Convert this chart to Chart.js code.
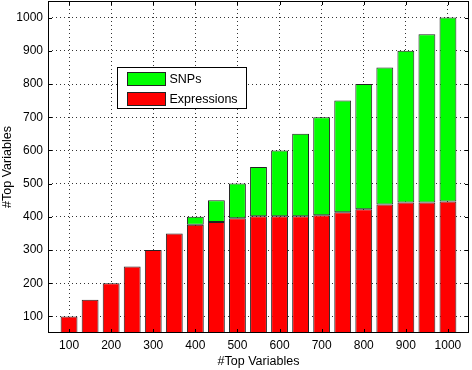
<!DOCTYPE html>
<html>
<head>
<meta charset="utf-8">
<script src="https://cdn.jsdelivr.net/npm/chart.js@4"></script>
<style>
  html, body { margin: 0; padding: 0; background: #fff; }
  #wrap { width: 472px; height: 370px; }
</style>
</head>
<body>
<div id="wrap"><canvas id="chart"></canvas></div>
<script>
const topVars = [100, 150, 200, 250, 300, 350, 400, 450, 500, 550, 600, 650, 700, 750, 800, 850, 900, 950, 1000];
const expressions = [100, 150, 200, 250, 300, 350, 376, 384, 396, 402, 402, 402, 405, 414, 423, 437, 443, 443, 446];
const snps = [0, 0, 0, 0, 0, 0, 24, 66, 104, 148, 198, 248, 295, 336, 377, 413, 457, 507, 554];
const xTicks = [100, 200, 300, 400, 500, 600, 700, 800, 900, 1000];
const yTicks = [100, 200, 300, 400, 500, 600, 700, 800, 900, 1000];

const font = { family: "'Liberation Sans', Arial, sans-serif", size: 12 };

// MATLAB-style frame, inward tick marks and the in-plot legend
const frameAndLegend = {
    id: 'frameAndLegend',
    afterDraw(chart) {
        const { ctx, chartArea: a, scales } = chart;
        ctx.save();
        ctx.strokeStyle = '#000';
        ctx.lineWidth = 1;
        ctx.strokeRect(a.left + 0.5, a.top + 0.5, a.right - a.left - 1, a.bottom - a.top - 1);
        ctx.beginPath();
        xTicks.forEach(v => {
            const x = Math.round(scales.x.getPixelForValue(v)) + 0.5;
            ctx.moveTo(x, a.bottom); ctx.lineTo(x, a.bottom - 4);
            ctx.moveTo(x, a.top); ctx.lineTo(x, a.top + 4);
        });
        yTicks.forEach(v => {
            const y = Math.round(scales.y.getPixelForValue(v)) + 0.5;
            ctx.moveTo(a.left, y); ctx.lineTo(a.left + 4, y);
            ctx.moveTo(a.right, y); ctx.lineTo(a.right - 4, y);
        });
        ctx.stroke();

        // legend
        ctx.fillStyle = '#fff';
        ctx.fillRect(117, 67, 129, 41);
        ctx.strokeRect(117.5, 67.5, 129, 41);
        const items = [
            { label: 'SNPs', color: '#00ff00', y: 72 },
            { label: 'Expressions', color: '#ff0000', y: 92 }
        ];
        ctx.font = '12.5px ' + font.family;
        ctx.textBaseline = 'middle';
        items.forEach(it => {
            ctx.fillStyle = it.color;
            ctx.fillRect(127, it.y, 39, 14);
            ctx.strokeStyle = '#222';
            ctx.strokeRect(127.5, it.y + 0.5, 38, 13);
            ctx.fillStyle = '#000';
            ctx.fillText(it.label, 169.5, it.y + 7.5);
        });
        ctx.restore();
    }
};

new Chart(document.getElementById('chart'), {
    type: 'bar',
    data: {
        datasets: [
            {
                label: 'Expressions',
                data: topVars.map((v, i) => ({ x: v, y: expressions[i] })),
                backgroundColor: '#ff0000',
                borderColor: '#222',
                borderWidth: 1,
                borderSkipped: false
            },
            {
                label: 'SNPs',
                data: topVars.map((v, i) => ({ x: v, y: snps[i] })),
                backgroundColor: '#00ff00',
                borderColor: '#222',
                borderWidth: 1,
                borderSkipped: false
            }
        ]
    },
    options: {
        responsive: true,
        maintainAspectRatio: false,
        animation: false,
        barPercentage: 0.8,
        categoryPercentage: 1,
        layout: { padding: { left: 0, top: 1, right: 3, bottom: 0 } },
        plugins: { legend: { display: false }, tooltip: { enabled: false } },
        scales: {
            x: {
                type: 'linear',
                stacked: true,
                offset: false,
                min: 50,
                max: 1050,
                afterBuildTicks: s => { s.ticks = xTicks.map(v => ({ value: v })); },
                afterFit: s => { s.height = 37; s.paddingLeft = 0; s.paddingRight = 0; },
                grid: { color: '#333', lineWidth: 1, drawTicks: false, offset: false },
                border: { display: false, dash: [1, 3] },
                ticks: { color: '#000', font, padding: 5, maxRotation: 0, callback: v => String(v) },
                title: { display: true, text: '#Top Variables', color: '#000', font: { ...font, size: 12.5 }, padding: { top: 0, bottom: 1 } }
            },
            y: {
                stacked: true,
                min: 50,
                max: 1050,
                afterBuildTicks: s => { s.ticks = yTicks.map(v => ({ value: v })); },
                afterFit: s => { s.width = 48; s.paddingTop = 0; s.paddingBottom = 0; },
                grid: { color: '#333', lineWidth: 1, drawTicks: false },
                border: { display: false, dash: [1, 3] },
                ticks: { color: '#000', font, padding: 5, callback: v => String(v) },
                title: { display: true, text: '#Top Variables', color: '#000', font: { ...font, size: 12.5 }, padding: { top: 0, bottom: 0 } }
            }
        }
    },
    plugins: [frameAndLegend]
});
</script>
</body>
</html>
